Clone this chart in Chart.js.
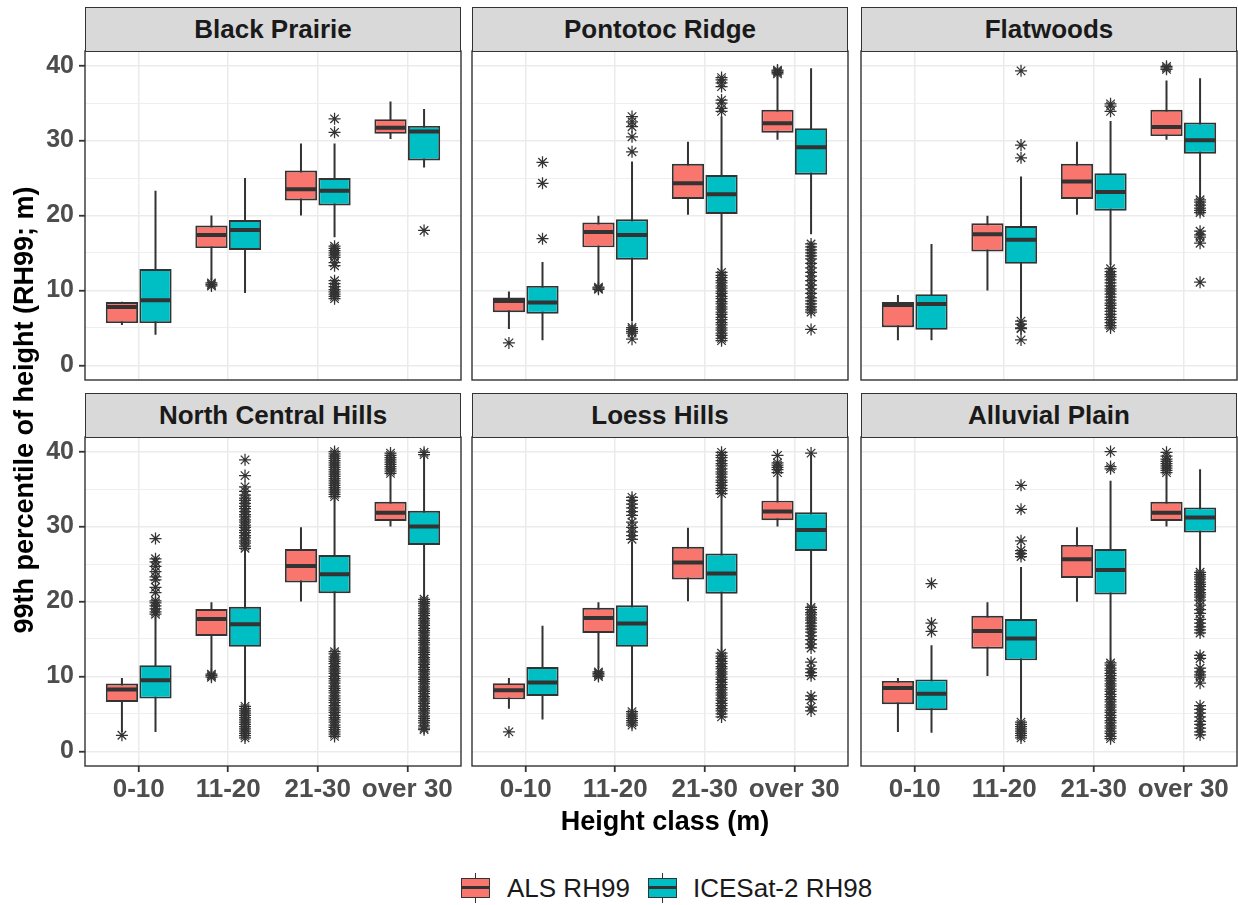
<!DOCTYPE html>
<html>
<head>
<meta charset="utf-8">
<script src="https://cdn.jsdelivr.net/npm/chart.js@4.4.1/dist/chart.umd.min.js"></script>
<style>
  html, body { margin: 0; padding: 0; background: #fff; }
  body { width: 1238px; height: 905px; position: relative; overflow: hidden;
         font-family: "Liberation Sans", Arial, sans-serif; }
  .panel { position: absolute; }
  .panel canvas { display: block; }
  .strip { position: absolute; box-sizing: border-box; background: #D9D9D9;
           border: 1.4px solid #333; text-align: center; font-weight: bold;
           font-size: 26px; color: #1A1A1A; white-space: nowrap; }
  .title { position: absolute; text-align: center; font-weight: bold; font-size: 27px;
           color: #000; white-space: nowrap; }
  .key { position: absolute; width: 29px; height: 20px; box-sizing: border-box;
         border: 1.6px solid #333; }
  .key::before { content: ""; position: absolute; left: 0; right: 0; top: 7.2px;
                 height: 2.4px; background: #333; }
  .whisk { position: absolute; width: 1.8px; background: #333; }
  .ltext { position: absolute; font-size: 26px; line-height: 30px; color: #1A1A1A; white-space: nowrap; }
</style>
</head>
<body>
<script>
// ---- categories and labels ----
const CLASSES = ['0-10', '11-20', '21-30', 'over 30'];
const SERIES_NAMES = ['ALS RH99', 'ICESat-2 RH98'];
const SERIES_COLORS = ['#F8766D', '#00BFC4'];
const REGIONS = ['Black Prairie', 'Pontotoc Ridge', 'Flatwoods',
                 'North Central Hills', 'Loess Hills', 'Alluvial Plain'];
const Y_GRID = [0, 5, 10, 15, 20, 25, 30, 35, 40];
const Y_LABELED = [0, 10, 20, 30, 40];

// ---- box statistics per height class: [lower whisker, Q1, median, Q3, upper whisker] ----
const blackPrairieALS = [[5.4, 5.65, 7.8, 8.45, 8.5], [11.4, 15.65, 17.4, 18.65, 20.0], [20.0, 22.0, 23.5, 26.0, 29.6], [30.2, 30.9, 31.7, 32.85, 35.2]];
const blackPrairieICE = [[4.1, 5.65, 8.7, 12.85, 23.3], [9.65, 15.4, 18.05, 19.4, 25.0], [17.1, 21.35, 23.3, 25.0, 29.6], [26.4, 27.35, 31.2, 31.95, 34.2]];
const pontotocALS = [[4.85, 7.1, 8.6, 9.05, 9.85], [10.6, 15.75, 17.8, 19.05, 19.95], [20.1, 22.2, 24.3, 26.9, 29.85], [30.1, 31.05, 32.3, 34.1, 38.7]];
const pontotocICE = [[3.35, 6.9, 8.4, 10.6, 13.8], [5.9, 14.1, 17.4, 19.5, 27.2], [12.5, 20.2, 22.85, 25.4, 33.2], [17.5, 25.45, 29.1, 31.65, 39.65]];
const flatwoodsALS = [[3.35, 5.1, 8.05, 8.45, 9.4], [10.0, 15.2, 17.5, 18.95, 19.95], [20.1, 22.2, 24.55, 26.9, 29.85], [30.1, 30.6, 31.8, 34.1, 38.0]];
const flatwoodsICE = [[3.35, 4.75, 8.2, 9.5, 16.2], [6.3, 13.55, 16.75, 18.6, 25.2], [13.4, 20.65, 23.15, 25.65, 32.6], [22.3, 28.25, 30.05, 32.4, 38.3]];
const northCentralALS = [[2.6, 6.6, 8.25, 9.05, 9.8], [10.6, 15.4, 17.65, 19.0, 19.9], [20.0, 22.55, 24.75, 27.0, 29.9], [30.0, 30.75, 31.85, 33.3, 36.9]];
const northCentralICE = [[2.6, 7.05, 9.5, 11.5, 18.0], [5.9, 13.95, 16.95, 19.3, 26.9], [13.5, 21.1, 23.65, 26.2, 33.8], [20.4, 27.55, 30.0, 32.1, 39.3]];
const loessALS = [[5.7, 6.95, 8.15, 9.1, 9.8], [11.05, 15.8, 17.8, 19.15, 19.9], [20.05, 22.95, 25.2, 27.3, 29.85], [30.0, 30.85, 32.0, 33.45, 36.8]];
const loessICE = [[4.25, 7.4, 9.2, 11.25, 16.75], [5.5, 13.95, 17.05, 19.5, 27.95], [13.3, 21.05, 23.75, 26.4, 34.2], [19.5, 26.75, 29.55, 31.9, 39.55]];
const alluvialALS = [[2.6, 6.3, 8.45, 9.4, 9.8], [10.05, 13.7, 16.05, 18.1, 19.9], [19.95, 23.15, 25.65, 27.55, 29.9], [30.0, 30.75, 31.85, 33.3, 36.9]];
const alluvialICE = [[2.5, 5.5, 7.7, 9.6, 14.15], [4.35, 12.15, 15.05, 17.65, 24.6], [11.9, 20.95, 24.2, 27.0, 36.1], [24.2, 29.2, 31.2, 32.55, 37.65]];

// ---- outlying observations per height class ----
const blackPrairieALSOut = [[], [10.6, 10.8, 11.0], [], []];
const blackPrairieICEOut = [[], [],
  [32.9, 31.1, 15.9, 15.6, 15.3, 15.0, 14.7, 14.4, 13.7, 13.3, 11.3, 10.9, 10.5, 10.1, 9.8, 9.5, 9.2, 8.9],
  [18.0]];
const pontotocALSOut = [[3.0], [10.15, 10.3, 10.45], [], [38.9, 39.1, 39.25, 39.4]];
const pontotocICEOut = [[16.9, 24.3, 27.1],
  [28.5, 30.5, 31.85, 32.5, 33.2, 5.05, 4.8, 4.55, 4.3, 3.5],
  [33.9, 34.3, 35.0, 35.4, 37.2, 37.7, 38.1, 38.4,
   12.4, 12.0, 11.7, 11.3, 11.0, 10.6, 10.3, 9.9, 9.6, 9.2, 8.9, 8.5, 8.2, 7.8, 7.5, 7.1, 6.8, 6.4, 6.1, 5.7, 5.4, 5.0, 4.7, 4.3, 4.0, 3.6, 3.3],
  [16.2, 15.8, 15.4, 15.0, 14.6, 14.2, 13.6, 13.0, 12.4, 11.9, 11.3, 10.7, 10.2, 9.6, 9.0, 8.6, 8.2, 7.8, 7.4, 7.1, 4.8]];
const flatwoodsALSOut = [[], [], [], [39.5, 39.7, 39.9]];
const flatwoodsICEOut = [[],
  [39.3, 29.4, 27.7, 5.9, 5.5, 5.0, 4.9, 3.4],
  [34.9, 34.6, 33.9,
   12.9, 12.5, 12.1, 11.8, 11.4, 11.0, 10.6, 10.2, 9.9, 9.5, 9.1, 8.7, 8.3, 8.0, 7.6, 7.2, 6.8, 6.4, 6.1, 5.7, 5.3, 5.0],
  [22.1, 21.8, 21.4, 21.0, 20.7, 20.4, 17.9, 17.4, 17.1, 16.3, 11.1]];
const northCentralALSOut = [[2.15], [9.9, 10.1, 10.3], [],
  [37.1, 37.4, 37.7, 38.0, 38.3, 38.6, 38.9, 39.2, 39.5, 39.8]];
const northCentralICEOut = [
  [18.3, 18.6, 19.0, 19.4, 19.8, 20.1, 21.2, 21.9, 22.9, 23.3, 24.0, 24.7, 25.3, 25.7, 28.4],
  [27.1, 27.4, 27.8, 28.1, 28.5, 28.8, 29.2, 29.5, 29.9, 30.2, 30.6, 30.9, 31.3, 31.6, 32.0, 32.4, 32.7, 33.1, 33.5, 33.8, 34.2, 34.7, 35.3, 36.8, 38.9,
   6.0, 5.7, 5.4, 5.1, 4.8, 4.5, 4.2, 3.9, 3.6, 3.3, 3.0, 2.7, 2.4, 2.1, 1.8],
  [34.0, 34.3, 34.6, 34.9, 35.2, 35.5, 35.8, 36.1, 36.4, 36.7, 37.0, 37.3, 37.6, 37.9, 38.2, 38.5, 38.8, 39.1, 39.4, 39.7, 40.0,
   13.3, 13.0, 12.6, 12.3, 12.0, 11.7, 11.3, 11.0, 10.7, 10.4, 10.0, 9.7, 9.4, 9.1, 8.7, 8.4, 8.1, 7.8, 7.4, 7.1, 6.8, 6.5, 6.1, 5.8, 5.5, 5.2, 4.8, 4.5, 4.2, 3.9, 3.5, 3.2, 2.9, 2.6, 2.3, 2.0],
  [39.6, 39.9,
   20.3, 20.0, 19.7, 19.4, 19.0, 18.7, 18.4, 18.1, 17.7, 17.4, 17.1, 16.8, 16.4, 16.1, 15.8, 15.5, 15.1, 14.8, 14.5, 14.2, 13.8, 13.5, 13.2, 12.9, 12.5, 12.2, 11.9, 11.6, 11.2, 10.9, 10.6, 10.3, 9.9, 9.6, 9.3, 9.0, 8.6, 8.3, 8.0, 7.7, 7.3, 7.0, 6.7, 6.4, 6.0, 5.7, 5.4, 5.1, 4.7, 4.4, 4.1, 3.8, 3.4, 3.1, 2.9]];
const loessALSOut = [[2.6], [10.0, 10.2, 10.4, 10.6], [], [37.2, 37.6, 37.9, 38.2, 38.5, 39.5]];
const loessICEOut = [[],
  [28.3, 28.8, 29.3, 29.9, 30.6, 31.5, 32.0, 32.5, 33.0, 33.5, 33.9, 5.3, 5.0, 4.7, 4.4, 4.1, 3.8, 3.5],
  [34.4, 34.8, 35.1, 35.5, 35.9, 36.2, 36.6, 37.0, 37.3, 37.7, 38.1, 38.4, 38.8, 39.2, 39.5, 39.9,
   13.1, 12.7, 12.4, 12.0, 11.7, 11.3, 11.0, 10.6, 10.3, 9.9, 9.6, 9.2, 8.9, 8.5, 8.2, 7.8, 7.5, 7.1, 6.8, 6.4, 6.1, 5.7, 5.4, 5.0, 4.6],
  [39.8, 19.2, 18.9, 18.5, 18.2, 17.8, 17.5, 17.1, 16.7, 16.3, 15.9, 15.4, 14.9, 14.3, 13.8, 11.9, 11.0, 10.5, 10.1, 7.4, 6.9, 5.9, 5.4]];
const alluvialALSOut = [[], [], [], [37.2, 37.5, 37.8, 38.1, 38.4, 38.7, 39.0, 39.4, 39.9]];
const alluvialICEOut = [[22.4, 17.1, 16.0],
  [35.5, 32.3, 28.1, 26.8, 26.4, 26.0, 3.9, 3.6, 3.3, 3.0, 2.7, 2.4, 2.1, 1.8],
  [40.0, 38.0, 37.7,
   11.8, 11.5, 11.1, 10.8, 10.4, 10.1, 9.7, 9.4, 9.0, 8.7, 8.3, 8.0, 7.6, 7.3, 6.9, 6.6, 6.2, 5.9, 5.5, 5.2, 4.8, 4.5, 4.1, 3.8, 3.4, 3.1, 2.7, 2.4, 2.0, 1.7],
  [23.9, 23.6, 23.3, 23.0, 22.6, 22.3, 22.0, 21.6, 21.2, 20.9, 20.6, 20.2, 19.5, 18.9, 18.4, 17.6, 17.1, 16.6, 16.2, 15.8,
   12.8, 12.4, 11.1, 10.6, 10.2, 9.9, 9.1, 6.1, 5.6, 5.1, 4.6, 4.0, 3.6, 3.1, 2.6, 2.2]];

// one entry per facet, in reading order
const PANELS = [
  { stats: [blackPrairieALS, blackPrairieICE], out: [blackPrairieALSOut, blackPrairieICEOut] },
  { stats: [pontotocALS, pontotocICE], out: [pontotocALSOut, pontotocICEOut] },
  { stats: [flatwoodsALS, flatwoodsICE], out: [flatwoodsALSOut, flatwoodsICEOut] },
  { stats: [northCentralALS, northCentralICE], out: [northCentralALSOut, northCentralICEOut] },
  { stats: [loessALS, loessICE], out: [loessALSOut, loessICEOut] },
  { stats: [alluvialALS, alluvialICE], out: [alluvialALSOut, alluvialICEOut] }
];

// ---- layout ----
const PLOT_LEFT = [85, 472, 861];
const PLOT_TOP = [51, 437];
const PLOT_W = 376, PLOT_H = 329, STRIP_H = 44;
const DODGE = [-0.1875, 0.1875];   // group offsets within a class
const HALF_BOX = 0.169;            // half width of a box (x units)
const FONT = '"Liberation Sans", Arial, sans-serif';
const INK = '#333333';

Chart.defaults.font.family = FONT;

// panel frame drawn over the plotting region
const frame = {
  id: 'frame',
  afterDatasetsDraw(chart) {
    const a = chart.chartArea, ctx = chart.ctx;
    ctx.save();
    ctx.strokeStyle = INK;
    ctx.lineWidth = 1.4;
    ctx.strokeRect(a.left, a.top, a.right - a.left, a.bottom - a.top);
    ctx.restore();
  }
};

function buildPanel(idx) {
  const col = idx % 3, row = Math.floor(idx / 3);
  const p = PANELS[idx];
  const left = PLOT_LEFT[col], top = PLOT_TOP[row];
  const yAxisW = col === 0 ? 70 : 0;
  const xAxisH = row === 1 ? 60 : 0;
  const padL = col === 0 ? 0 : 10, padB = row === 1 ? 0 : 10;
  const W = PLOT_W + yAxisW + padL + 10;
  const H = PLOT_H + 10 + xAxisH + padB;

  // facet strip
  const strip = document.createElement('div');
  strip.className = 'strip';
  strip.style.cssText = `left:${left}px;top:${top - STRIP_H}px;width:${PLOT_W}px;height:${STRIP_H + 1}px;line-height:${STRIP_H - 2}px;`;
  strip.textContent = REGIONS[idx];

  const wrap = document.createElement('div');
  wrap.className = 'panel';
  wrap.style.cssText = `left:${left - yAxisW - padL}px;top:${top - 10}px;width:${W}px;height:${H}px;`;
  const cv = document.createElement('canvas');
  cv.width = W; cv.height = H;
  wrap.appendChild(cv);
  document.body.appendChild(wrap);
  document.body.appendChild(strip);

  const datasets = [];
  for (let s = 0; s < 2; s++) {
    const stats = p.stats[s];
    const whisk = [], med = [], boxes = [], pts = [];
    stats.forEach((b, i) => {
      const x = i + 1 + DODGE[s];
      whisk.push({ x, y: b[0] }, { x, y: b[4] }, { x, y: null });
      med.push({ x: x - HALF_BOX, y: b[2] }, { x: x + HALF_BOX, y: b[2] }, { x, y: null });
      boxes.push({ x, y: [b[1], b[3]] });
      p.out[s][i].forEach(v => pts.push({ x, y: v }));
    });
    datasets.push({
      type: 'line', label: SERIES_NAMES[s] + ' whiskers', data: whisk, order: 4,
      borderColor: INK, borderWidth: 2, pointRadius: 0, spanGaps: false, borderCapStyle: 'butt'
    });
    datasets.push({
      type: 'bar', label: SERIES_NAMES[s], data: boxes, order: 3,
      backgroundColor: SERIES_COLORS[s], borderColor: INK, borderWidth: 1.9,
      borderSkipped: false, grouped: false, barPercentage: 0.96, categoryPercentage: 1
    });
    datasets.push({
      type: 'line', label: SERIES_NAMES[s] + ' median', data: med, order: 2,
      borderColor: INK, borderWidth: 4, pointRadius: 0, spanGaps: false, borderCapStyle: 'butt'
    });
    datasets.push({
      type: 'scatter', label: SERIES_NAMES[s] + ' outliers', data: pts, order: 1,
      pointStyle: 'star', pointRadius: 6, borderColor: INK, borderWidth: 1.25,
      backgroundColor: 'rgba(0,0,0,0)'
    });
  }

  new Chart(cv, {
    type: 'scatter',
    data: { datasets },
    plugins: [frame],
    options: {
      responsive: false, animation: false, devicePixelRatio: 1,
      layout: { padding: { left: padL, top: 10, right: 10, bottom: padB } },
      plugins: { legend: { display: false }, tooltip: { enabled: false } },
      scales: {
        x: {
          type: 'linear', min: 0.4, max: 4.6, offset: false,
          afterBuildTicks: ax => { ax.ticks = CLASSES.map((c, i) => ({ value: i + 1 })); },
          afterFit: ax => { ax.height = xAxisH; ax.paddingLeft = 0; ax.paddingRight = 0; },
          border: { display: false },
          grid: { offset: false, color: '#EBEBEB', lineWidth: 1.5, drawTicks: row === 1, tickLength: 6,
                  tickColor: INK, tickWidth: 1.8 },
          ticks: { display: row === 1, autoSkip: false, maxRotation: 0, padding: 2,
                   color: '#4D4D4D', font: { size: 26, weight: 'bold' },
                   callback: v => CLASSES[Math.round(v) - 1] }
        },
        y: {
          type: 'linear', min: -1.95, max: 41.95,
          afterBuildTicks: ax => { ax.ticks = Y_GRID.map(v => ({ value: v })); },
          afterFit: ax => { ax.width = yAxisW; ax.paddingTop = 0; ax.paddingBottom = 0; },
          border: { display: false },
          grid: {
            offset: false,
            color: '#EBEBEB',
            lineWidth: c => (c.tick && Y_LABELED.includes(c.tick.value)) ? 1.5 : 0.8,
            drawTicks: col === 0, tickLength: 6, tickWidth: 1.8,
            tickColor: c => (c.tick && Y_LABELED.includes(c.tick.value)) ? INK : 'rgba(0,0,0,0)'
          },
          ticks: { display: col === 0, autoSkip: false, padding: 5,
                   color: '#4D4D4D', font: { size: 25, weight: 'bold' },
                   callback: v => Y_LABELED.includes(v) ? String(v) : '' }
        }
      }
    }
  });
}

for (let i = 0; i < PANELS.length; i++) buildPanel(i);

// axis titles
const yTitle = document.createElement('div');
yTitle.className = 'title';
yTitle.style.cssText = 'left:-226.5px;top:393px;width:500px;height:34px;line-height:34px;transform:rotate(-90deg);';
yTitle.textContent = '99th percentile of height (RH99; m)';
document.body.appendChild(yTitle);

const xTitle = document.createElement('div');
xTitle.className = 'title';
xTitle.style.cssText = 'left:415px;top:804px;width:500px;height:34px;line-height:34px;';
xTitle.textContent = 'Height class (m)';
document.body.appendChild(xTitle);

// legend
const LEGEND_KEYS_X = [461, 648];
const LEGEND_TEXT_X = [507, 693];
SERIES_NAMES.forEach((name, s) => {
  const w = document.createElement('div');
  w.className = 'whisk';
  w.style.cssText = `left:${LEGEND_KEYS_X[s] + 13.6}px;top:873px;height:30px;`;
  document.body.appendChild(w);
  const k = document.createElement('div');
  k.className = 'key';
  k.style.cssText = `left:${LEGEND_KEYS_X[s]}px;top:878px;background:${SERIES_COLORS[s]};`;
  document.body.appendChild(k);
  const t = document.createElement('div');
  t.className = 'ltext';
  t.style.cssText = `left:${LEGEND_TEXT_X[s]}px;top:873px;`;
  t.textContent = name;
  document.body.appendChild(t);
});
</script>
</body>
</html>
